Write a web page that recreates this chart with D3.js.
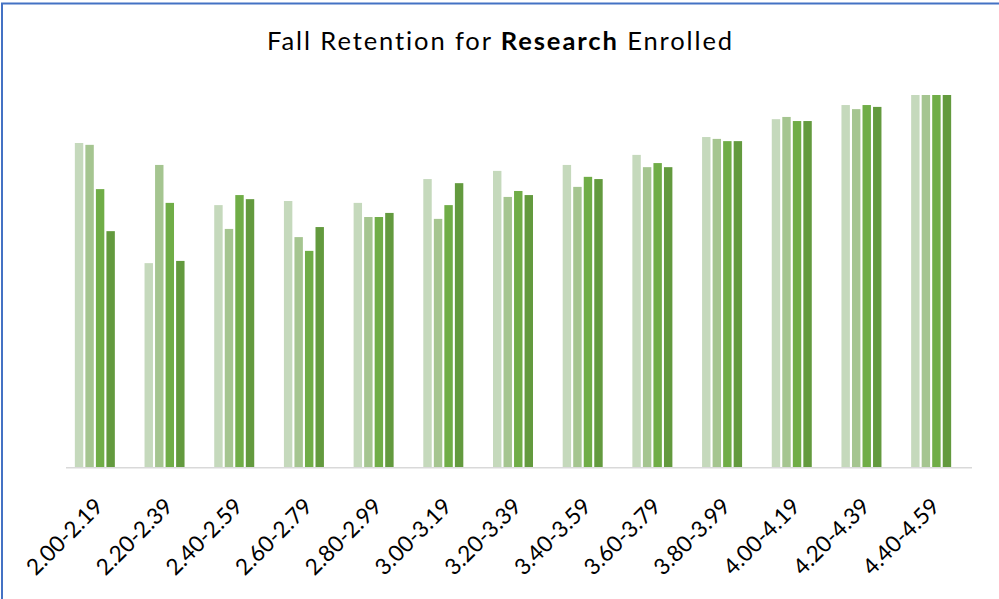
<!DOCTYPE html>
<html>
<head>
<meta charset="utf-8">
<script src="https://cdn.jsdelivr.net/npm/d3@7"></script>
<style>
  html, body { margin: 0; padding: 0; background: #fff; }
  svg { display: block; }
</style>
</head>
<body>
<svg id="chart" width="999" height="599"></svg>
<script>
// GPA bands on the x axis
const categories = ["2.00-2.19", "2.20-2.39", "2.40-2.59", "2.60-2.79", "2.80-2.99",
                    "3.00-3.19", "3.20-3.39", "3.40-3.59", "3.60-3.79", "3.80-3.99",
                    "4.00-4.19", "4.20-4.39", "4.40-4.59"];

// Fall retention rate (%) per cohort, one value per GPA band
const series1 = [87.1, 54.8, 70.4, 71.5, 71.0, 77.4, 79.6, 81.2, 83.9, 88.7, 93.5, 97.3, 100];
const series2 = [86.6, 81.2, 64.0, 61.8, 67.2, 66.7, 72.6, 75.3, 80.6, 88.2, 94.1, 96.2, 100];
const series3 = [74.7, 71.0, 73.1, 58.1, 67.2, 70.4, 74.2, 78.0, 81.7, 87.6, 93.0, 97.3, 100];
const series4 = [63.4, 55.4, 72.0, 64.5, 68.3, 76.3, 73.1, 77.4, 80.6, 87.6, 93.0, 96.8, 100];

const seriesNames = ["Series 1", "Series 2", "Series 3", "Series 4"];
const seriesValues = [series1, series2, series3, series4];
const seriesColors = ["#C5D9BC", "#A5C590", "#70AD47", "#639A3E"];

const svg = d3.select("#chart");

// chart frame
svg.append("rect")
  .attr("x", 2).attr("y", 3.5)
  .attr("width", 1200).attr("height", 800)
  .attr("fill", "#fff")
  .attr("stroke", "#4472C4")
  .attr("stroke-width", 2);

// title
const title = svg.append("text")
  .attr("x", 500.5).attr("y", 49.5)
  .attr("text-anchor", "middle")
  .attr("font-family", "Lato, 'Open Sans', sans-serif")
  .attr("font-size", 25.5)
  .attr("letter-spacing", 1.9)
  .attr("fill", "#000");
title.append("tspan").text("Fall Retention for ");
title.append("tspan").attr("font-weight", "bold").text("Research");
title.append("tspan").text(" Enrolled");

// scales
const plotLeft = 66, plotRight = 972, baseY = 467, topY = 95;
const x = d3.scaleBand().domain(categories).range([plotLeft, plotRight]).padding(0);
const groupShift = -6;
const xInner = d3.scaleBand().domain(seriesNames).range([-20, 20]).paddingInner(0.2).paddingOuter(0);
const y = d3.scaleLinear().domain([0, 100]).range([baseY, topY]);

// bars
const rows = categories.map((c, i) => ({
  cat: c,
  vals: seriesNames.map((s, k) => ({ key: s, value: seriesValues[k][i], color: seriesColors[k] }))
}));

const groups = svg.append("g").selectAll("g")
  .data(rows).join("g")
  .attr("transform", d => `translate(${x(d.cat) + x.bandwidth() / 2 + groupShift},0)`);

groups.selectAll("rect")
  .data(d => d.vals).join("rect")
  .attr("x", d => xInner(d.key))
  .attr("width", xInner.bandwidth())
  .attr("y", d => y(d.value))
  .attr("height", d => y(0) - y(d.value))
  .attr("fill", d => d.color);

// category axis line
svg.append("line")
  .attr("x1", plotLeft).attr("x2", plotRight)
  .attr("y1", baseY + 0.75).attr("y2", baseY + 0.75)
  .attr("stroke", "#D9D9D9")
  .attr("stroke-width", 1.5);

// rotated category labels
svg.append("g").selectAll("text")
  .data(categories).join("text")
  .attr("transform", d => `translate(${x(d) + x.bandwidth() / 2 - 2},502) rotate(-45)`)
  .attr("text-anchor", "end")
  .attr("dy", "0.36em")
  .attr("font-family", "Lato, 'Open Sans', sans-serif")
  .attr("font-size", 22.5)
  .attr("fill", "#000")
  .text(d => d);
</script>
</body>
</html>
